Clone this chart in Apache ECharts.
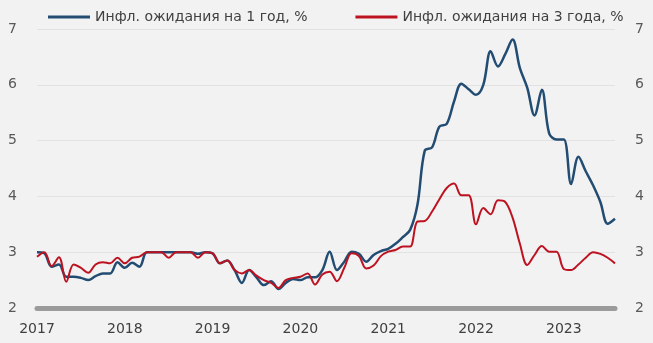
<!DOCTYPE html>
<html>
<head>
<meta charset="utf-8">
<script src="https://cdn.jsdelivr.net/npm/echarts@6/dist/echarts.min.js"></script>
<style>
  html, body { margin: 0; padding: 0; background: #f2f2f2; }
  #chart { width: 653px; height: 343px; }
</style>
</head>
<body>
<div id="chart"></div>
<script>
// Monthly observations, Jan 2017 – Aug 2023
const seriesNames = ['Инфл. ожидания на 1 год, %', 'Инфл. ожидания на 3 года, %'];

const expect1y = [
  3.00, 2.98, 2.74, 2.78, 2.56, 2.56, 2.54, 2.50, 2.57, 2.62, 2.62, 2.82,
  2.72, 2.81, 2.74, 3.00, 3.00, 3.00, 3.00, 3.00, 3.00, 3.00, 2.97, 3.00,
  2.98, 2.80, 2.85, 2.68, 2.45, 2.68, 2.55, 2.41, 2.48, 2.34, 2.45, 2.52,
  2.50, 2.55, 2.55, 2.68, 3.01, 2.68, 2.83, 3.01, 2.97, 2.83, 2.95, 3.02,
  3.06, 3.15, 3.27, 3.40, 3.85, 4.82, 4.88, 5.25, 5.30, 5.70, 6.02, 5.92,
  5.82, 6.00, 6.60, 6.33, 6.55, 6.81, 6.30, 5.95, 5.45, 5.91, 5.13, 5.02,
  5.02, 4.22, 4.71, 4.45, 4.20, 3.90, 3.51, 3.60
];

const expect3y = [
  2.92, 3.00, 2.75, 2.91, 2.47, 2.78, 2.72, 2.63, 2.78, 2.82, 2.80, 2.90,
  2.80, 2.90, 2.92, 3.00, 3.00, 3.00, 2.90, 3.00, 3.00, 3.00, 2.90, 3.00,
  2.98, 2.80, 2.85, 2.68, 2.62, 2.68, 2.58, 2.50, 2.45, 2.36, 2.50, 2.54,
  2.56, 2.62, 2.42, 2.60, 2.65, 2.48, 2.72, 2.98, 2.93, 2.71, 2.76, 2.93,
  3.01, 3.04, 3.10, 3.10, 3.55, 3.56, 3.73, 3.95, 4.15, 4.23, 4.02, 4.02,
  3.50, 3.79, 3.68, 3.93, 3.90, 3.62, 3.15, 2.77, 2.95, 3.11, 3.01, 3.01,
  2.70, 2.68, 2.78, 2.90, 3.00, 2.97, 2.90, 2.80
];

const startYear = 2017;
const months = expect1y.map((_, i) => {
  const y = startYear + Math.floor(i / 12);
  const m = (i % 12) + 1;
  return y + '-' + String(m).padStart(2, '0');
});

const yTicks = [2, 3, 4, 5, 6, 7];

const FONT = 'DejaVu Sans';
const chart = echarts.init(document.getElementById('chart'));

const yAxisCommon = {
  type: 'value',
  min: yTicks[0],
  max: yTicks[yTicks.length - 1],
  interval: 1,
  axisLine: { show: false },
  axisTick: { show: false },
  axisLabel: { color: '#595959', fontSize: 14, fontFamily: FONT, margin: 20 }
};

chart.setOption({
  backgroundColor: '#f2f2f2',
  animation: false,
  legend: {
    top: 10,
    left: 48,
    padding: 0,
    itemWidth: 42,
    itemHeight: 3,
    itemGap: 48,
    icon: 'rect',
    textStyle: { color: '#404040', fontSize: 14, fontFamily: FONT },
    data: seriesNames
  },
  grid: { left: 37, right: 38, top: 29, bottom: 35 },
  xAxis: {
    type: 'category',
    data: months,
    boundaryGap: false,
    axisLine: { lineStyle: { color: '#9b9b9b', width: 5 } },
    axisTick: { show: false },
    splitLine: { show: false },
    axisLabel: {
      interval: 11,
      margin: 14,
      color: '#404040',
      fontSize: 14,
      fontFamily: FONT,
      formatter: v => v.slice(0, 4)
    }
  },
  yAxis: [
    Object.assign({}, yAxisCommon, {
      position: 'left',
      splitLine: { show: true, lineStyle: { color: '#e2e2e2', width: 1 } }
    }),
    Object.assign({}, yAxisCommon, {
      position: 'right',
      splitLine: { show: false }
    })
  ],
  series: [
    {
      name: seriesNames[0],
      type: 'line',
      data: expect1y,
      smooth: 0.35,
      symbol: 'none',
      lineStyle: { color: '#234c73', width: 2.5 },
      itemStyle: { color: '#234c73' },
      z: 3
    },
    {
      name: seriesNames[1],
      type: 'line',
      data: expect3y,
      smooth: 0.35,
      symbol: 'none',
      lineStyle: { color: '#bd1220', width: 2 },
      itemStyle: { color: '#bd1220' },
      z: 4
    }
  ]
});
</script>
</body>
</html>
